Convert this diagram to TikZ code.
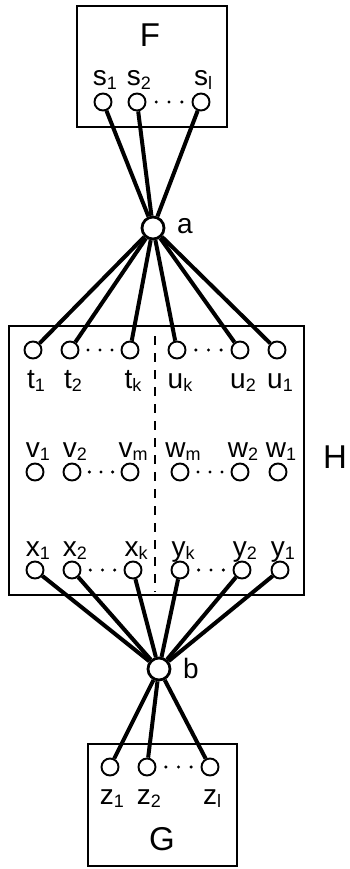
\documentclass[tikz,border=0pt]{standalone}
\usepackage{fontspec}
\setmainfont{Liberation Sans}
\usetikzlibrary{calc}
\newcommand{\lsub}[1]{\raisebox{-0.22ex}{\fontsize{18}{18}\selectfont#1}}

\begin{document}
\begin{tikzpicture}[x=1pt,y=-1pt,line width=2.4pt,
  vert/.style={circle,draw,line width=1.9pt,minimum size=17pt,inner sep=0pt,fill=white},
  hub/.style={circle,draw,line width=2.8pt,minimum size=22pt,inner sep=0pt,fill=white},
  lbl/.style={anchor=base,inner sep=0pt,font=\fontsize{28}{30}\selectfont},
  big/.style={anchor=base,inner sep=0pt,font=\fontsize{33}{36}\selectfont},
  edge/.style={line width=4pt}]
  \useasboundingbox (0,0) rectangle (349,869);
  % the three boxes
  \draw (77,6) rectangle (227,127);
  \draw (9,326) rectangle (304,595);
  \draw (88,744) rectangle (237,866);
  \node[big] (F) at (150,47) {F};
  \node[big] (H) at (335,468) {H};
  \node[big] (G) at (162,850) {G};
  \draw[line width=2.8pt,dash pattern=on 9pt off 8pt] (155,336) -- (155,592);
  % cut vertices
  \node[hub] (a) at (153,228) {};
  \node[hub] (b) at (159,669) {};
  \node[lbl] (la) at (185,233) {a};
  \node[lbl] (lb) at (191,678) {b};
  % rows of vertices
  \foreach \n/\x/\l in {s1/103/s\lsub{1},s2/137/s\lsub{2},sl/201/s\lsub{l}}{
    \node[vert] (\n) at (\x,102) {};
    \node[lbl] at (\x+2,86) {\l};
  }
  \foreach \n/\x/\l in {t1/33/t\lsub{1},t2/70/t\lsub{2},tk/130/t\lsub{k},
                        uk/177/u\lsub{k},u2/240/u\lsub{2},u1/277/u\lsub{1}}{
    \node[vert] (\n) at (\x,350) {};
    \node[lbl] at (\x+3,388) {\l};
  }
  \foreach \n/\x/\l in {v1/35/v\lsub{1},v2/72/v\lsub{2},vm/130/v\lsub{m},
                        wm/180/w\lsub{m},w2/240/w\lsub{2},w1/278/w\lsub{1}}{
    \node[vert] (\n) at (\x,472) {};
    \node[lbl] at (\x+3,457) {\l};
  }
  \foreach \n/\x/\l in {x1/35/x\lsub{1},x2/72/x\lsub{2},xk/133/x\lsub{k},
                        yk/180/y\lsub{k},y2/242/y\lsub{2},y1/280/y\lsub{1}}{
    \node[vert] (\n) at (\x,570) {};
    \node[lbl] at (\x+3,556) {\l};
  }
  \foreach \n/\x/\l in {z1/110/z\lsub{1},z2/147/z\lsub{2},zl/210/z\lsub{l}}{
    \node[vert] (\n) at (\x,767) {};
    \node[lbl] at (\x+2,804) {\l};
  }
  % dots between the vertices
  \foreach \p/\q in {s2/sl,t2/tk,uk/u2,v2/vm,wm/w2,x2/xk,yk/y2,z2/zl}
    \foreach \f in {0.3,0.5,0.7}
      \fill ($(\p)!\f!(\q)$) circle(1.7pt);
  % edges through a and b
  \foreach \n in {s1,s2,sl,t1,t2,tk,uk,u2,u1}
    \draw[edge] (a) -- (\n);
  \foreach \n in {x1,x2,xk,yk,y2,y1,z1,z2,zl}
    \draw[edge] (b) -- (\n);
\end{tikzpicture}
\end{document}
